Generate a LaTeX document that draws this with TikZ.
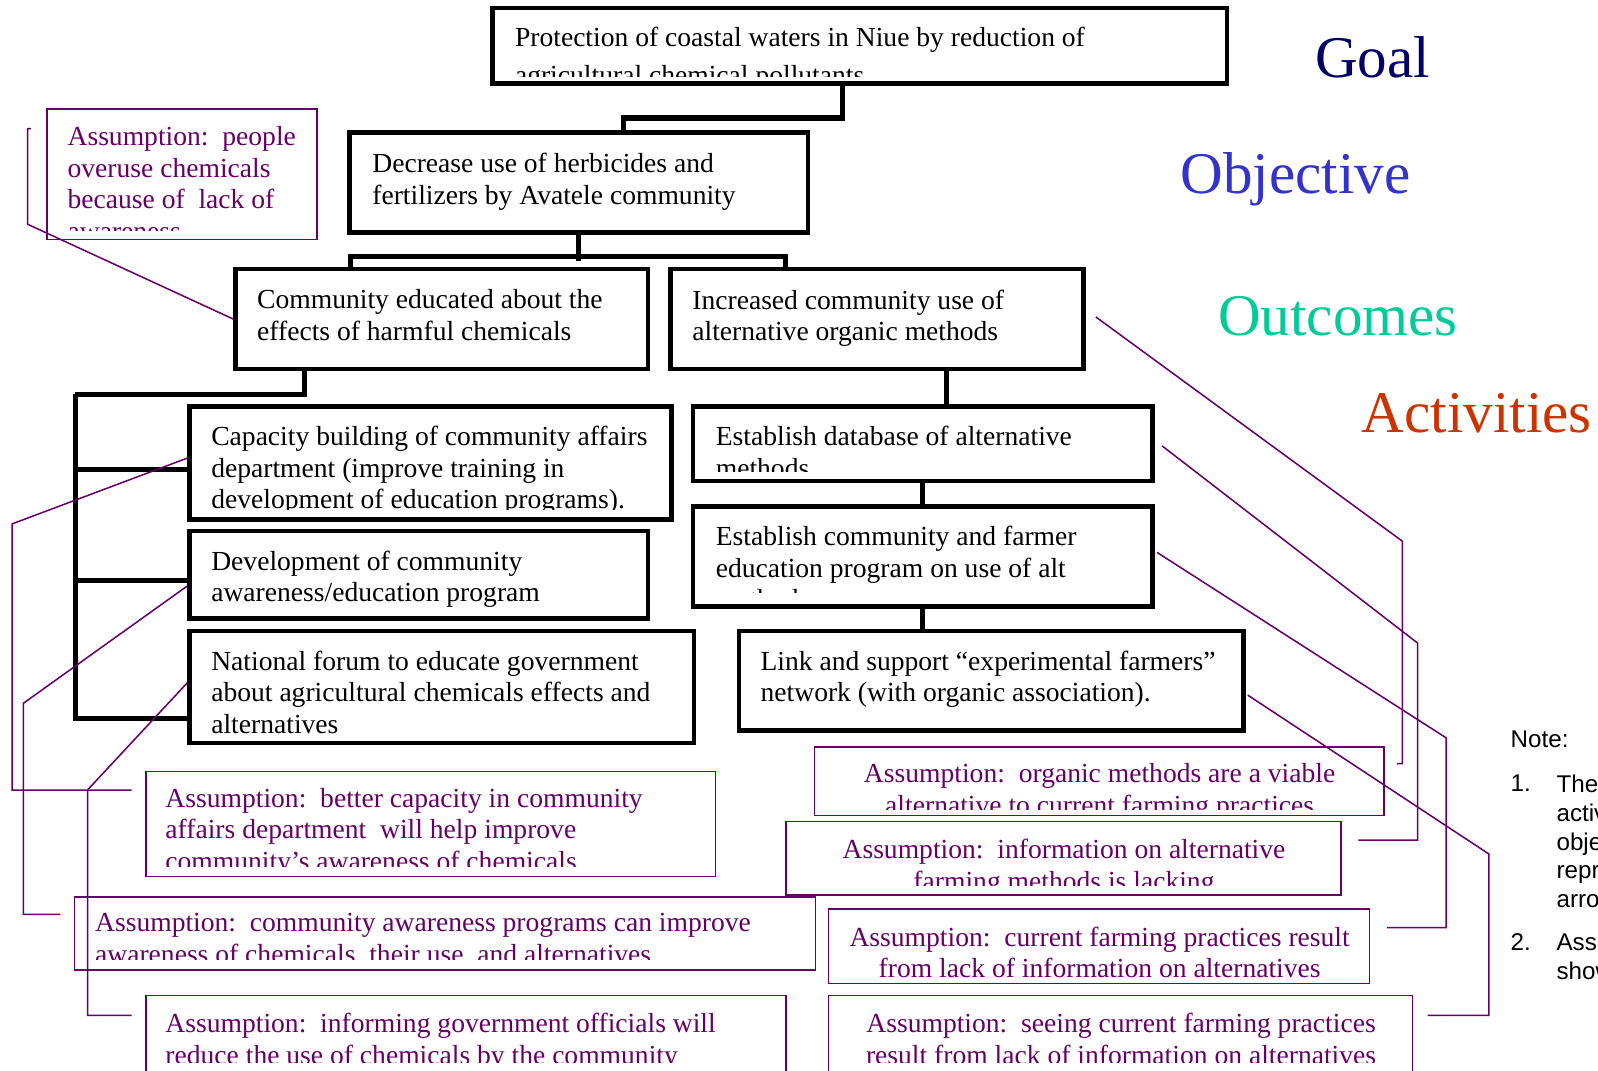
\documentclass[tikz,border=0pt]{standalone}
\usepackage{fontspec}
\setmainfont{Liberation Serif}
\setsansfont{Liberation Sans}
\usetikzlibrary{fit}

\definecolor{asmpurple}{RGB}{102,0,102}
\definecolor{goalblue}{RGB}{0,0,102}
\definecolor{objblue}{RGB}{51,51,204}
\definecolor{outgreen}{RGB}{0,204,153}
\definecolor{actred}{RGB}{204,51,0}

\begin{document}
\begin{tikzpicture}[x=0.2mm, y=-0.2mm,
    tbox/.style={draw=black, line width=0.9mm, inner sep=0pt},
    abox/.style={draw=asmpurple, line width=0.3mm, inner sep=0pt},
    btext/.style={inner sep=0pt, anchor=north west, align=left, font=\fontsize{15.4}{17.6}\selectfont},
    atext/.style={btext, text=asmpurple},
    ctext/.style={atext, anchor=north, align=center},
    head/.style={inner sep=0pt, anchor=base west, font=\fontsize{33}{40}\selectfont},
    notetext/.style={inner sep=0pt, align=left, font=\sffamily\fontsize{13.5}{16.1}\selectfont},
    tree/.style={line width=1mm},
    aline/.style={draw=asmpurple, line width=0.3mm}]
    \useasboundingbox (0,0) rectangle (1568,1050);
    \fill[white] (0,0) rectangle (1568,1050);
    \clip (0,0) rectangle (1568,1050);

    % level headings
    \node[head, text=goalblue] (hgoal) at (1290,76) {Goal};
    \node[head, text=objblue] (hobjective) at (1158,190) {Objective};
    \node[head, text=outgreen] (houtcomes) at (1195,329) {Outcomes};
    \node[head, text=actred] (hactivities) at (1336,424) {Activities};

    % logframe boxes
    \node[tbox, fit={(483,8) (1204,82)}] (goal) {};
    \node[tbox, fit={(343,130) (793,228)}] (objective) {};
    \node[tbox, fit={(231,264) (636,362)}] (educated) {};
    \node[tbox, fit={(658,264) (1063,362)}] (organic) {};
    \node[tbox, fit={(186,399) (659,510)}] (capacity) {};
    \node[tbox, fit={(186,521) (636,607)}] (program) {};
    \node[tbox, fit={(186,619) (681,729)}] (forum) {};
    \node[tbox, fit={(680,399) (1131,472)}] (database) {};
    \node[tbox, fit={(680,497) (1131,595)}] (farmered) {};
    \node[tbox, fit={(725,619) (1220,717)}] (network) {};

    \begin{scope}
      \clip (goal.north west) rectangle (goal.east |- 0,75);
      \node[btext, font=\fontsize{15.4}{21.6}\selectfont] (goal-t) at (505,26)
        {Protection of coastal waters in Niue by reduction of\\agricultural chemical pollutants};
    \end{scope}
    \node[btext] (objective-t) at (365,150) {Decrease use of herbicides and\\fertilizers by Avatele community};
    \node[btext] (educated-t) at (252,284) {Community educated about the\\effects of harmful chemicals};
    \node[btext] (organic-t) at (679,284) {Increased community use of\\alternative organic methods};
    \begin{scope}
      \clip (capacity.north west) rectangle (capacity.east |- 0,500);
      \node[btext] (capacity-t) at (207,418)
        {Capacity building of community affairs\\department (improve training in\\development of education programs).};
    \end{scope}
    \node[btext] (program-t) at (207,540) {Development of community\\awareness/education program};
    \node[btext] (forum-t) at (207,638)
      {National forum to educate government\\about agricultural chemicals effects and\\alternatives};
    \begin{scope}
      \clip (database.north west) rectangle (database.east |- 0,463);
      \node[btext] (database-t) at (702,418) {Establish database of alternative\\methods};
    \end{scope}
    \begin{scope}
      \clip (farmered.north west) rectangle (farmered.east |- 0,581);
      \node[btext] (farmered-t) at (702,516)
        {Establish community and farmer\\education program on use of alt\\methods};
    \end{scope}
    \node[btext] (network-t) at (746,638)
      {Link and support “experimental farmers”\\network (with organic association).};

    % tree connectors
    \draw[tree] ([shift={(-17,0)}]goal.south) |- ([shift={(44,-12)}]objective.north)
      -- ([shift={(44,0)}]objective.north);
    \draw[tree] (objective.south) -- ++(0,26);
    \draw[tree] ([shift={(-90,0)}]educated.north) -- ++(0,-10) -| ([shift={(-90,0)}]organic.north);
    \coordinate (leftbar) at (74,387);
    \draw[tree] ([shift={(-135,0)}]educated.south) |- (leftbar);
    \foreach \act/\dy in {capacity/6, program/6, forum/31}
      \draw[tree] (leftbar) |- ([shift={(0,\dy)}]\act.west);
    \draw[tree] ([shift={(68,0)}]organic.south) -- ([shift={(23,0)}]database.north);
    \draw[tree] (database.south) -- (farmered.north);
    \draw[tree] (farmered.south) -- (farmered.south |- network.north);

    % assumptions
    \node[abox, fit={(46,107) (311,235)}] (asmpeople) {};
    \node[abox, fit={(143,757) (702,860)}] (asmcapacity) {};
    \node[abox, fit={(73,880) (800,952)}] (asmprograms) {};
    \node[abox, fit={(143,977) (771,1080)}] (asmofficials) {};
    \node[abox, fit={(799,733) (1358,800)}] (asmviable) {};
    \node[abox, fit={(771,806) (1316,878)}] (asmlacking) {};
    \node[abox, fit={(813,892) (1344,965)}] (asmresult) {};
    \node[abox, fit={(813,977) (1386,1080)}] (asmseeing) {};

    \begin{scope}
      \clip (asmpeople.north west) rectangle (asmpeople.east |- 0,226);
      \node[atext] (asmpeople-t) at (66,124)
        {Assumption:\ \ people\\overuse chemicals\\because of\ \ lack of\\awareness};
    \end{scope}
    \begin{scope}
      \clip (asmcapacity.north west) rectangle (asmcapacity.east |- 0,850);
      \node[atext] (asmcapacity-t) at (162,773)
        {Assumption:\ \ better capacity in community\\affairs department\ \ will help improve\\community’s awareness of chemicals};
    \end{scope}
    \begin{scope}
      \clip (asmprograms.north west) rectangle (asmprograms.east |- 0,941);
      \node[atext] (asmprograms-t) at (93,896)
        {Assumption:\ \ community awareness programs can improve\\awareness of chemicals, their use, and alternatives};
    \end{scope}
    \begin{scope}
      \clip (asmofficials.north west) rectangle (asmofficials.east |- 0,1043);
      \node[atext] (asmofficials-t) at (162,994)
        {Assumption:\ \ informing government officials will\\reduce the use of chemicals by the community};
    \end{scope}
    \begin{scope}
      \clip (asmviable.north west) rectangle (asmviable.east |- 0,794);
      \node[ctext] (asmviable-t) at (1079,749)
        {Assumption:\ \ organic methods are a viable\\alternative to current farming practices};
    \end{scope}
    \begin{scope}
      \clip (asmlacking.north west) rectangle (asmlacking.east |- 0,869);
      \node[ctext] (asmlacking-t) at (1044,823)
        {Assumption:\ \ information on alternative\\farming methods is lacking};
    \end{scope}
    \node[ctext] (asmresult-t) at (1079,909)
      {Assumption:\ \ current farming practices result\\from lack of information on alternatives};
    \begin{scope}
      \clip (asmseeing.north west) rectangle (asmseeing.east |- 0,1043);
      \node[ctext] (asmseeing-t) at (1100,994)
        {Assumption:\ \ seeing current farming practices\\result from lack of information on alternatives};
    \end{scope}

    % assumption links
    \draw[aline] (educated.west) -- (27,220) |- ([shift={(-15,20)}]asmpeople.north west);
    \draw[aline] ([shift={(0,-5)}]capacity.west) -- (12,514) |- ([shift={(-13,19)}]asmcapacity.north west);
    \draw[aline] ([shift={(0,11)}]program.west) -- (23,690) |- ([shift={(-13,18)}]asmprograms.north west);
    \draw[aline] ([shift={(0,-4)}]forum.west) -- (86,775) |- ([shift={(-13,20)}]asmofficials.north west);
    \draw[aline] ([shift={(10,-2)}]organic.east) -- (1376,531) |- ([shift={(12,17)}]asmviable.north east);
    \draw[aline] ([shift={(7,2)}]database.east) -- (1391,631) |- ([shift={(16,19)}]asmlacking.north east);
    \draw[aline] ([shift={(2,-4)}]farmered.east) -- (1419,724) |- ([shift={(16,19)}]asmresult.north east);
    \draw[aline] ([shift={(2,14)}]network.east) -- (1461,838) |- ([shift={(14,20)}]asmseeing.north east);

    % note
    \node[notetext, anchor=base west] (note) at (1482,733) {Note:};
    \node[notetext, anchor=base west] (note1) at (1482,777) {1.};
    \node[notetext, anchor=north west] (note1-t) at (1527,760) {The\\activ\\obje\\repr\\arro};
    \node[notetext, anchor=base west] (note2) at (1482,933) {2.};
    \node[notetext, anchor=north west] (note2-t) at (1527,916) {Assu\\show};
\end{tikzpicture}
\end{document}
